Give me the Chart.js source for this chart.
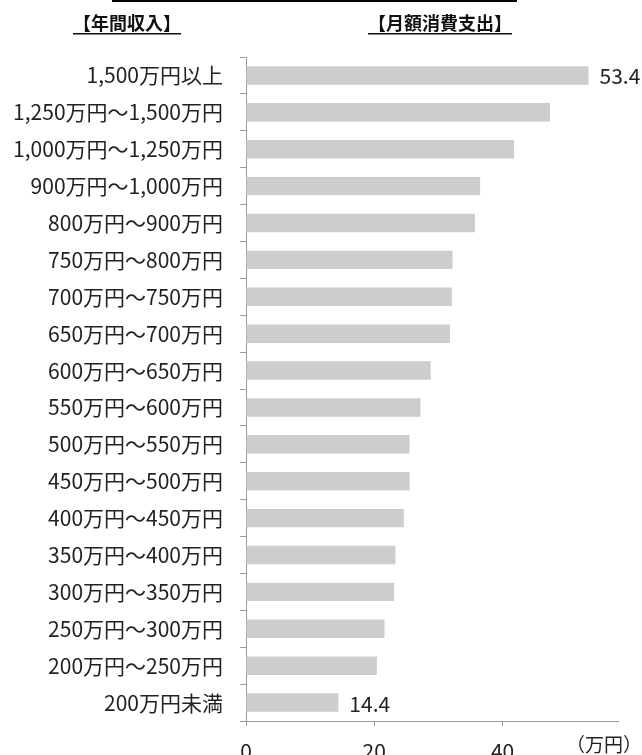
<!DOCTYPE html>
<html>
<head>
<meta charset="utf-8">
<script src="https://cdn.jsdelivr.net/npm/chart.js@4/dist/chart.umd.min.js"></script>
<style>
  html, body { margin: 0; padding: 0; background: #fff; }
  canvas { display: block; }
</style>
</head>
<body>
<canvas id="c" width="642" height="755"></canvas>
<script>
// 年間収入別の月額消費支出（万円）
const categories = [
  "1,500万円以上",
  "1,250万円～1,500万円",
  "1,000万円～1,250万円",
  "900万円～1,000万円",
  "800万円～900万円",
  "750万円～800万円",
  "700万円～750万円",
  "650万円～700万円",
  "600万円～650万円",
  "550万円～600万円",
  "500万円～550万円",
  "450万円～500万円",
  "400万円～450万円",
  "350万円～400万円",
  "300万円～350万円",
  "250万円～300万円",
  "200万円～250万円",
  "200万円未満"
]
const spending = [53.4, 47.4, 41.8, 36.5, 35.7, 32.2, 32.1, 31.8, 28.8, 27.2, 25.5, 25.5, 24.6, 23.3, 23.1, 21.6, 20.4, 14.4]
const xTicks = [0, 20, 40]
const xMax = 58
const labeledBars = [0, 17]   // only the top and bottom bars carry a value label

const leftTitle = "【年間収入】"
const rightTitle = "【月額消費支出】"
const unitLabel = "（万円）"

const FONT = "'Noto Sans CJK JP', 'Noto Sans', sans-serif"
const TEXT = "#222"

// titles, top rule, unit and value labels are drawn straight onto the canvas
const decorations = {
  id: "decorations",
  afterDatasetsDraw(chart) {
    const { ctx } = chart
    const meta = chart.getDatasetMeta(0)
    ctx.save()
    ctx.fillStyle = TEXT
    ctx.font = "21px " + FONT
    ctx.textAlign = "left"
    ctx.textBaseline = "middle"
    labeledBars.forEach(i => {
      const bar = meta.data[i]
      ctx.fillText(spending[i].toFixed(1), bar.x + 11, bar.y + 1)
    })
    ctx.restore()
  },
  afterDraw(chart) {
    const { ctx } = chart
    ctx.save()

    ctx.fillStyle = "#000"
    ctx.fillRect(112, 0, 405, 2)

    ctx.font = "bold 18px " + FONT
    ctx.textBaseline = "middle"
    ctx.textAlign = "left"
    ;[[leftTitle, 73], [rightTitle, 368]].forEach(([t, x]) => {
      ctx.fillStyle = "#111"
      ctx.fillText(t, x, 23)
      const w = ctx.measureText(t).width
      ctx.fillRect(x, 33, w, 1.5)
    })

    ctx.font = "19px " + FONT
    ctx.fillStyle = TEXT
    ctx.fillText(unitLabel, 566, 745)
    ctx.restore()
  }
}

new Chart(document.getElementById("c"), {
  type: "bar",
  data: {
    labels: categories,
    datasets: [{
      data: spending,
      backgroundColor: "#cdcdcd",
      borderWidth: 0,
      barPercentage: 1,
      categoryPercentage: 0.5
    }]
  },
  options: {
    indexAxis: "y",
    responsive: false,
    animation: false,
    layout: { padding: { top: 57, right: 24, bottom: 0, left: 0 } },
    plugins: { legend: { display: false }, tooltip: { enabled: false } },
    scales: {
      x: {
        min: 0, max: xMax,
        afterBuildTicks: s => { s.ticks = xTicks.map(v => ({ value: v })) },
        afterFit: s => { s.height = 34 },
        border: { color: "#9a9a9a", width: 1 },
        grid: { drawOnChartArea: false, tickLength: 5, color: "#9a9a9a" },
        ticks: { font: { size: 21, family: FONT }, color: TEXT, padding: 12, maxRotation: 0 }
      },
      y: {
        afterFit: s => { s.width = 246 },
        border: { color: "#9a9a9a", width: 1 },
        grid: { drawOnChartArea: false, tickLength: 6, color: "#9a9a9a", offset: true },
        ticks: { font: { size: 21, family: FONT }, color: TEXT, padding: 17, autoSkip: false }
      }
    }
  },
  plugins: [decorations]
})
</script>
</body>
</html>
